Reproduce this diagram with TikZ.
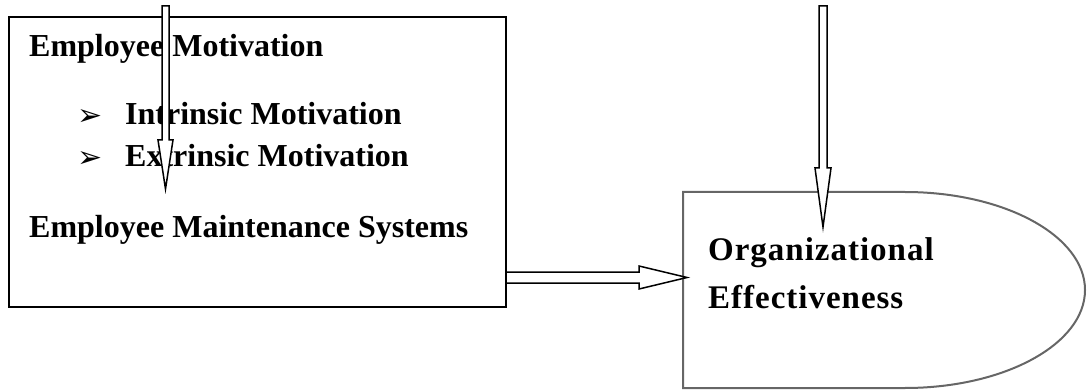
\documentclass[tikz,border=0pt]{standalone}
\usepackage{fontspec}
\setmainfont{Liberation Serif}
\newfontfamily\symfont{DejaVu Sans}
\newfontfamily\efffont{Liberation Serif}[LetterSpace=3]
\usetikzlibrary{calc}
\begin{document}
\begin{tikzpicture}[x=1pt,y=-1pt,
  frame/.style={draw=black, line width=2pt},
  outline/.style={draw=black!60, line width=2pt},
  blockarrow/.style={draw=black, fill=white, line width=1.5pt, line join=miter},
  lefttext/.style={anchor=base west, inner sep=0pt, font=\bfseries\fontsize{32}{38}\selectfont},
  bulletmark/.style={anchor=base west, inner sep=0pt, font=\symfont\fontsize{30}{36}\selectfont},
  efftext/.style={anchor=base west, inner sep=0pt, font=\efffont\bfseries\fontsize{33}{40}\selectfont}]
\useasboundingbox (0,0) rectangle (1087,390);

% motivation box and its contents
\node[frame, anchor=north west, minimum width=497pt, minimum height=290pt, inner sep=0pt] (mot) at (8,16) {};
\node[lefttext] (t1) at (29,57) {Employee Motivation};
\node[bulletmark] (b1) at (77,126) {➢};
\node[lefttext] (t2) at (125,125) {Intrinsic Motivation};
\node[bulletmark] (b2) at (77,168) {➢};
\node[lefttext] (t3) at (125,167) {Extrinsic Motivation};
\node[lefttext] (t4) at (29,237) {Employee Maintenance Systems};

% effectiveness shape: straight left part, half-ellipse on the right
\coordinate (effNW) at (683,192);
\coordinate (effSW) at (683,388);
\draw[outline] (effSW) -- (effNW) -- (905,192)
  .. controls (1004.4,192) and (1085,235.9) .. (1085,290)
  .. controls (1085,344.1) and (1004.4,388) .. (905,388) -- cycle;
\node[efftext] (org) at (708,260) {Organizational};
\node[efftext] (effv) at (708,308) {Effectiveness};

% horizontal block arrow from the box to the shape
\coordinate (hs) at ($(mot.south east)+(0,-30.5)$);
\coordinate (ht) at ($(effNW|-hs)+(4,0)$);
\draw[blockarrow] ($(hs)+(0,-5.5)$) -- ($(ht)+(-48,-5.5)$) -- ($(ht)+(-48,-11.5)$) -- (ht)
  -- ($(ht)+(-48,11.5)$) -- ($(ht)+(-48,5.5)$) -- ($(hs)+(0,5.5)$);

% vertical block arrow over the box
\coordinate (v1s) at (165.5,6);
\coordinate (v1t) at (165.5,189);
\draw[blockarrow] ($(v1s)+(-3.5,0)$) -- ($(v1t)+(-3.5,-49)$) -- ($(v1t)+(-7.5,-49)$) -- (v1t)
  -- ($(v1t)+(7.5,-49)$) -- ($(v1t)+(3.5,-49)$) -- ($(v1s)+(3.5,0)$) -- cycle;

% vertical block arrow into the shape
\coordinate (v2s) at (823,6);
\coordinate (v2t) at (823,227);
\draw[blockarrow] ($(v2s)+(-4,0)$) -- ($(v2t)+(-4,-59)$) -- ($(v2t)+(-8,-59)$) -- (v2t)
  -- ($(v2t)+(8,-59)$) -- ($(v2t)+(4,-59)$) -- ($(v2s)+(4,0)$) -- cycle;
\end{tikzpicture}
\end{document}
